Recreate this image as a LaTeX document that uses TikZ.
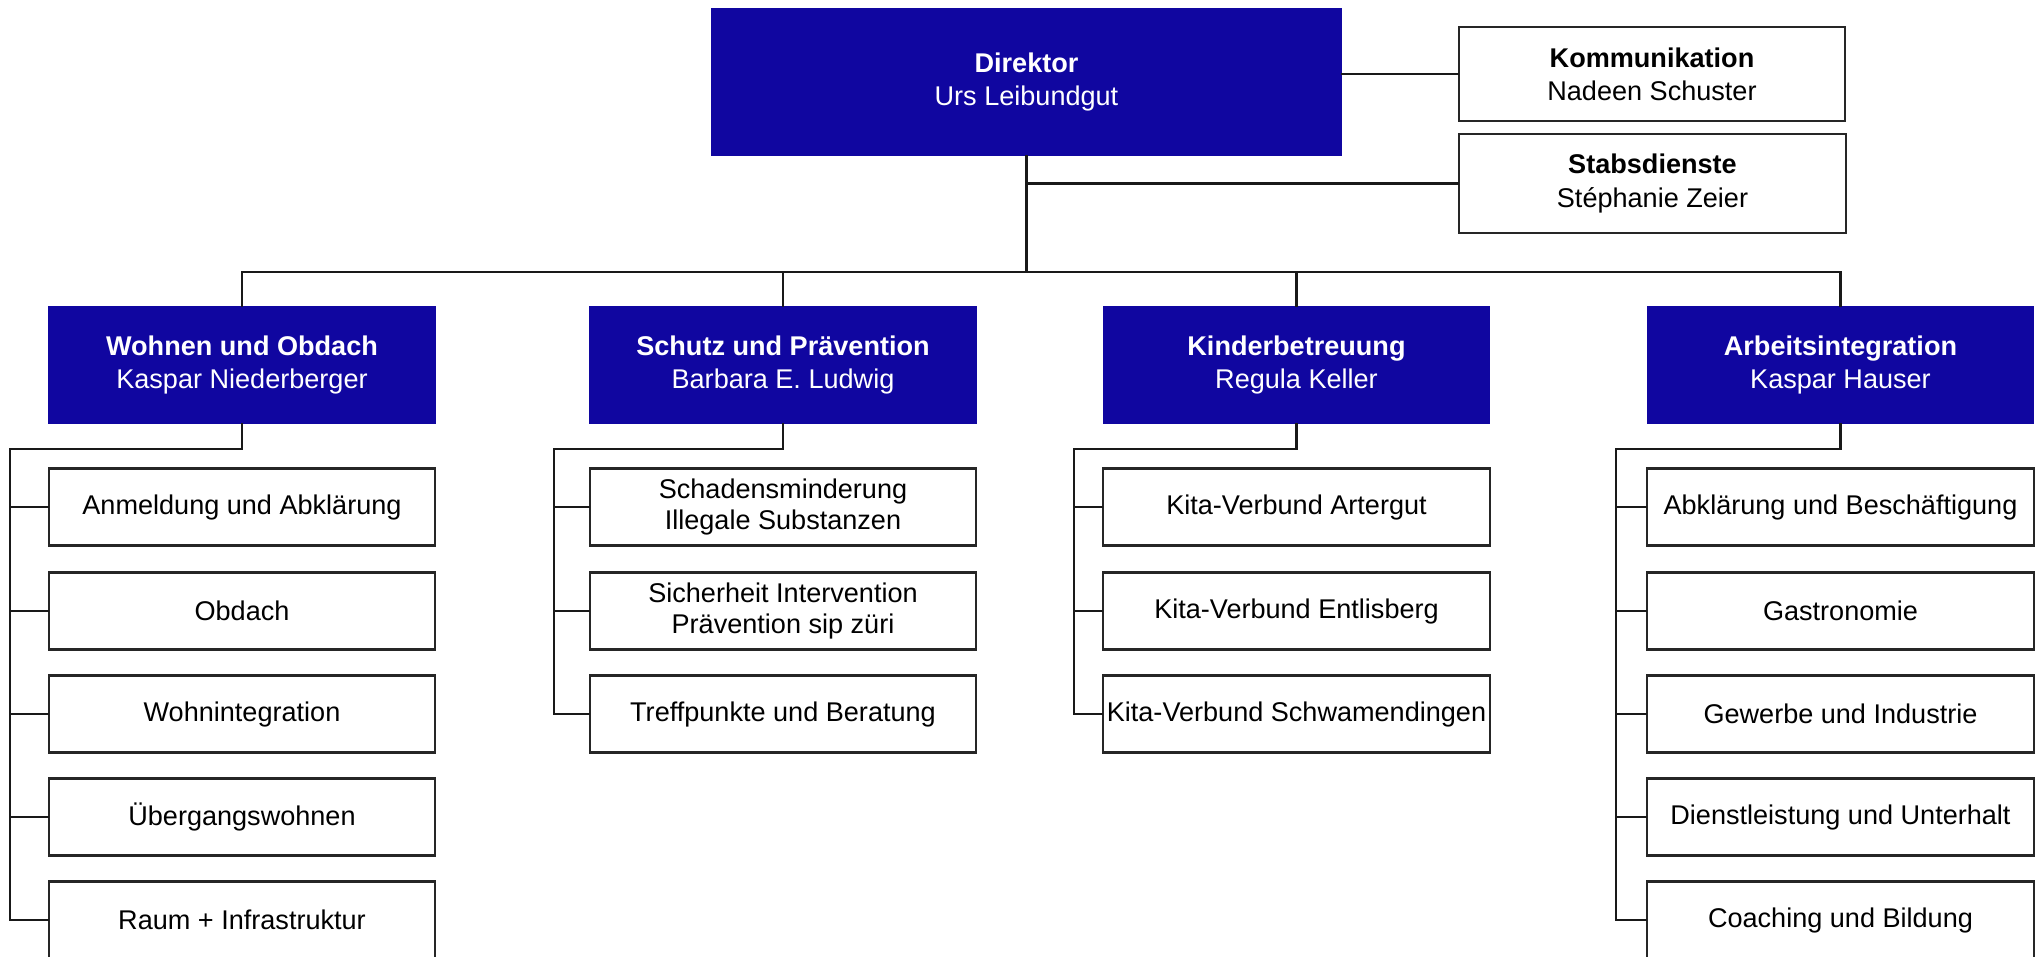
\documentclass[tikz,border=0pt]{standalone}
\usepackage{fontspec}
\setmainfont{Liberation Sans}
\definecolor{orgblau}{RGB}{16,6,160}
\begin{document}
\begin{tikzpicture}[x=0.01cm,y=-0.01cm,
	chef/.style={fill=orgblau,draw=orgblau,text=white,align=center,inner sep=0pt,outer sep=0pt,
		font=\fontsize{7.7pt}{9.4pt}\selectfont},
	stab/.style={fill=white,draw=black!85,line width=0.6pt,align=center,inner sep=0pt,outer sep=0pt,
		minimum width=3.86cm,font=\fontsize{7.7pt}{9.4pt}\selectfont},
	bereich/.style={fill=white,draw=black!85,line width=0.6pt,align=center,inner sep=0pt,outer sep=0pt,
		minimum width=3.86cm,minimum height=0.77cm,font=\fontsize{7.7pt}{8.6pt}\selectfont},
	linie/.style={draw=black!90,line width=0.7pt}]

	\useasboundingbox (0,0) rectangle (2044,957);

	% Direktion und Stab
	\node[chef,minimum width=6.29cm,minimum height=1.46cm] (dir) at (1026.5,82) {\textbf{Direktor}\\Urs Leibundgut};
	\node[stab,minimum height=0.94cm] (komm) at (1652,74) {\textbf{Kommunikation}\\Nadeen Schuster};
	\node[stab,minimum height=0.99cm] (stabs) at (1652.5,183.5) {\textbf{Stabsdienste}\\Stéphanie Zeier};

	% Departemente
	\node[chef,minimum width=3.86cm,minimum height=1.16cm] (wohnen) at (242,365) {\textbf{Wohnen und Obdach}\\Kaspar Niederberger};
	\node[chef,minimum width=3.86cm,minimum height=1.16cm] (schutz) at (783,365) {\textbf{Schutz und Prävention}\\Barbara E. Ludwig};
	\node[chef,minimum width=3.86cm,minimum height=1.16cm] (kinder) at (1296.5,365) {\textbf{Kinderbetreuung}\\Regula Keller};
	\node[chef,minimum width=3.86cm,minimum height=1.16cm] (arbeit) at (1840.5,365) {\textbf{Arbeitsintegration}\\Kaspar Hauser};

	% Wohnen und Obdach
	\node[bereich] (w1) at (242,507) {Anmeldung und Abklärung};
	\node[bereich] (w2) at (242,611) {Obdach};
	\node[bereich] (w3) at (242,714) {Wohnintegration};
	\node[bereich] (w4) at (242,817) {Übergangswohnen};
	\node[bereich] (w5) at (242,920) {Raum + Infrastruktur};

	% Schutz und Praevention
	\node[bereich] (s1) at (783,507) {Schadensminderung\\Illegale Substanzen};
	\node[bereich] (s2) at (783,611) {Sicherheit Intervention\\Prävention sip züri};
	\node[bereich] (s3) at (783,714) {Treffpunkte und Beratung};

	% Kinderbetreuung
	\node[bereich] (k1) at (1296.5,507) {Kita-Verbund Artergut};
	\node[bereich] (k2) at (1296.5,611) {Kita-Verbund Entlisberg};
	\node[bereich] (k3) at (1296.5,714) {Kita-Verbund Schwamendingen};

	% Arbeitsintegration
	\node[bereich] (a1) at (1840.5,507) {Abklärung und Beschäftigung};
	\node[bereich] (a2) at (1840.5,611) {Gastronomie};
	\node[bereich] (a3) at (1840.5,714) {Gewerbe und Industrie};
	\node[bereich] (a4) at (1840.5,817) {Dienstleistung und Unterhalt};
	\node[bereich] (a5) at (1840.5,920) {Coaching und Bildung};

	% Linien oben
	\coordinate (bus) at (0,272);
	\draw[linie] (dir.east |- komm.west) -- (komm.west);
	\draw[linie,line width=0.9pt] (dir.south) -- (dir.south |- bus);
	\draw[linie] (dir.south |- stabs.west) -- (stabs.west);
	\draw[linie] (wohnen.north) -- (wohnen.north |- bus) -- (arbeit.north |- bus) -- (arbeit.north);
	\draw[linie] (schutz.north) -- (schutz.north |- bus);
	\draw[linie] (kinder.north) -- (kinder.north |- bus);

	% Linien unten
	\coordinate (wschiene) at (10,449);
	\coordinate (sschiene) at (554,449);
	\coordinate (kschiene) at (1074,449);
	\coordinate (aschiene) at (1616,449);

	\draw[linie] (wohnen.south) |- (wschiene) |- (w5.west);
	\draw[linie] (wschiene |- w1.west) -- (w1.west);
	\draw[linie] (wschiene |- w2.west) -- (w2.west);
	\draw[linie] (wschiene |- w3.west) -- (w3.west);
	\draw[linie] (wschiene |- w4.west) -- (w4.west);

	\draw[linie] (schutz.south) |- (sschiene) |- (s3.west);
	\draw[linie] (sschiene |- s1.west) -- (s1.west);
	\draw[linie] (sschiene |- s2.west) -- (s2.west);

	\draw[linie] (kinder.south) |- (kschiene) |- (k3.west);
	\draw[linie] (kschiene |- k1.west) -- (k1.west);
	\draw[linie] (kschiene |- k2.west) -- (k2.west);

	\draw[linie] (arbeit.south) |- (aschiene) |- (a5.west);
	\draw[linie] (aschiene |- a1.west) -- (a1.west);
	\draw[linie] (aschiene |- a2.west) -- (a2.west);
	\draw[linie] (aschiene |- a3.west) -- (a3.west);
	\draw[linie] (aschiene |- a4.west) -- (a4.west);
\end{tikzpicture}
\end{document}
